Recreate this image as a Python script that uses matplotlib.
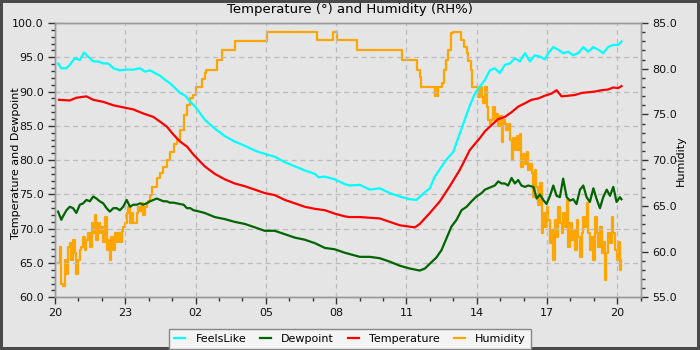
import matplotlib
matplotlib.use("Agg")
import matplotlib.pyplot as plt
from matplotlib.ticker import MultipleLocator, FixedLocator, FormatStrFormatter

# ---- data (hours since 20:00 of first day) ----
feels_t = [0.13, 0.27, 0.49, 0.63, 0.84, 1.06, 1.24, 1.41, 1.63, 1.84, 2.06, 2.27, 2.49, 2.77,
           3.06, 3.34, 3.63, 3.84, 4.06, 4.27, 4.49, 4.70, 4.91, 5.13, 5.34, 5.56, 5.77, 5.99,
           6.39, 6.82, 7.25, 7.67, 8.10, 8.53, 8.95, 9.38, 9.81, 10.24, 10.66, 11.09, 11.25,
           11.52, 11.94, 12.37, 12.58, 13.01, 13.44, 13.86, 14.29, 14.72, 15.14, 15.43, 15.71,
           16.00, 16.21, 16.43, 16.71, 17.00, 17.28, 17.49, 17.71, 17.92, 18.13, 18.35, 18.56,
           18.77, 18.99, 19.20, 19.42, 19.63, 19.84, 20.06, 20.27, 20.48, 20.70, 20.91, 21.05,
           21.27, 21.48, 21.69, 21.91, 22.12, 22.33, 22.55, 22.76, 22.97, 23.19, 23.40, 23.61,
           23.83, 24.04, 24.18]
feels_v = [94.1, 93.4, 93.4, 93.9, 94.85, 94.6, 95.7, 95.1, 94.4, 94.4, 94.1, 94.1, 93.4, 93.1,
           93.2, 93.2, 93.4, 92.9, 93.1, 92.7, 92.3, 91.7, 91.2, 90.5, 89.8, 89.4, 88.5, 87.8,
           85.9, 84.6, 83.5, 82.7, 82.1, 81.4, 80.9, 80.5, 79.7, 79.1, 78.5, 78.0, 77.5,
           77.6, 77.2, 76.5, 76.3, 76.4, 75.7, 75.9, 75.2, 74.7, 74.3, 74.2, 75.1,
           75.9, 77.6, 78.7, 80.1, 81.2, 83.9, 85.9, 88.0, 89.7, 90.7, 91.7, 93.1,
           93.4, 92.7, 93.9, 94.1, 94.85, 94.4, 95.6, 94.4, 95.3, 95.1, 94.7, 95.6,
           96.5, 96.1, 95.6, 95.8, 95.3, 95.6, 96.5, 95.8, 96.5, 96.1, 95.6, 96.5,
           96.8, 96.8, 97.3]

temp_t = [0.17, 0.63, 0.91, 1.34, 1.63, 2.06, 2.49, 2.91, 3.34, 3.77, 4.20, 4.49, 4.77, 5.06,
          5.34, 5.63, 5.91, 6.39, 6.82, 7.25, 7.67, 8.10, 8.53, 8.95, 9.38, 9.81, 10.24, 10.66,
          11.09, 11.52, 11.94, 12.37, 12.58, 13.01, 13.44, 13.86, 14.29, 14.72, 15.14, 15.36,
          15.57, 16.00, 16.43, 16.85, 17.28, 17.71, 18.13, 18.35, 18.63, 18.92, 19.20, 19.49,
          19.77, 20.06, 20.34, 20.63, 20.91, 21.19, 21.41, 21.62, 21.91, 22.19, 22.48, 22.76,
          23.04, 23.33, 23.61, 23.83, 24.04, 24.18]
temp_v = [88.8, 88.7, 89.1, 89.3, 88.8, 88.5, 88.0, 87.7, 87.4, 86.8, 86.3, 85.6, 84.9, 83.7,
          82.7, 82.0, 80.8, 79.1, 78.0, 77.2, 76.6, 76.2, 75.7, 75.2, 74.9, 74.2, 73.7, 73.2,
          72.9, 72.7, 72.2, 71.8, 71.7, 71.7, 71.6, 71.5, 71.0, 70.5, 70.3, 70.2,
          70.7, 72.3, 74.0, 76.2, 78.6, 81.5, 83.2, 84.2, 85.1, 86.0, 86.3, 87.0,
          87.8, 88.3, 88.8, 89.0, 89.4, 89.7, 90.2, 89.3, 89.4, 89.5, 89.8, 89.9,
          90.0, 90.2, 90.3, 90.6, 90.5, 90.8]

dew_t = [0.13, 0.27, 0.34, 0.49, 0.63, 0.77, 0.91, 1.06, 1.20, 1.34, 1.49, 1.63, 1.77, 1.91,
         2.06, 2.20, 2.34, 2.49, 2.63, 2.77, 2.91, 3.06, 3.20, 3.34, 3.49, 3.63, 3.77, 3.91,
         4.06, 4.20, 4.34, 4.49, 4.63, 4.77, 4.91, 5.06, 5.20, 5.34, 5.49, 5.63, 5.77, 5.91,
         6.05, 6.39, 6.82, 7.25, 7.67, 8.10, 8.53, 8.95, 9.38, 9.81, 10.24, 10.66, 11.09,
         11.52, 11.94, 12.37, 12.58, 13.01, 13.44, 13.86, 14.29, 14.72, 15.14, 15.57, 15.79,
         16.00, 16.28, 16.50, 16.71, 16.92, 17.14, 17.35, 17.57, 17.78, 17.99, 18.21, 18.35,
         18.49, 18.63, 18.77, 18.92, 19.06, 19.20, 19.34, 19.49, 19.63, 19.77, 19.91, 20.06,
         20.20, 20.42, 20.56, 20.70, 20.84, 20.98, 21.13, 21.27, 21.41, 21.55, 21.69, 21.84,
         21.98, 22.12, 22.26, 22.41, 22.55, 22.69, 22.83, 22.98, 23.12, 23.26, 23.40, 23.55,
         23.69, 23.83, 23.97, 24.11, 24.18]
dew_v = [72.5, 71.3, 71.8, 72.7, 73.2, 73.0, 72.3, 73.5, 73.7, 74.2, 74.0, 74.7, 74.4, 74.0,
         73.7, 73.0, 72.5, 73.0, 73.0, 72.7, 73.2, 74.2, 73.2, 73.5, 73.5, 73.7, 73.5, 73.7,
         74.0, 74.2, 74.4, 74.2, 74.0, 74.0, 73.8, 73.8, 73.7, 73.6, 73.5, 73.0, 73.0, 72.7,
         72.6, 72.3, 71.7, 71.4, 71.0, 70.7, 70.2, 69.7, 69.7, 69.2, 68.7, 68.4, 67.9,
         67.2, 67.0, 66.5, 66.3, 65.9, 65.9, 65.7, 65.2, 64.6, 64.2, 63.9, 64.2,
         64.9, 65.8, 66.9, 68.6, 70.3, 71.3, 72.7, 73.2, 74.0, 74.7, 75.2, 75.7,
         75.9, 76.1, 76.3, 76.9, 76.6, 76.6, 76.3, 77.4, 76.6, 77.1, 76.3, 76.1,
         76.3, 76.1, 74.4, 75.0, 74.2, 73.6, 74.8, 76.3, 74.8, 74.6, 77.3, 74.6,
         74.1, 74.3, 73.6, 75.7, 76.3, 74.6, 73.9, 75.9, 74.3, 73.0, 74.6, 75.7,
         74.8, 76.1, 73.9, 74.6, 74.3]

hum_t = [0.13, 0.20, 0.27, 0.34, 0.41, 0.49, 0.56, 0.63, 0.70, 0.77, 0.84, 0.91, 0.99, 1.06,
         1.13, 1.20, 1.27, 1.34, 1.41, 1.49, 1.56, 1.63, 1.70, 1.77, 1.84, 1.91, 1.99, 2.06,
         2.13, 2.20, 2.27, 2.34, 2.41, 2.49, 2.56, 2.63, 2.70, 2.77, 2.84, 2.91, 2.99, 3.06,
         3.13, 3.20, 3.27, 3.34, 3.41, 3.49, 3.56, 3.63, 3.70, 3.77, 3.84, 3.91, 3.99, 4.06,
         4.13, 4.34, 4.49, 4.63, 4.77, 4.91, 5.06, 5.20, 5.34, 5.49, 5.63, 5.77, 5.91,
         6.00, 6.25, 6.28, 6.39, 6.46, 6.89, 6.92, 7.10, 7.13, 7.65, 7.68, 9.00, 9.03,
         11.16, 11.19, 11.84, 11.87, 12.01, 12.04, 12.84, 12.87, 14.76, 14.79, 15.40, 15.46,
         15.57, 15.64, 16.14, 16.20, 16.24, 16.30, 16.34, 16.43, 16.50, 16.60, 16.68, 16.78,
         16.92, 17.00, 17.28, 17.35, 17.45, 17.57, 17.64, 17.74, 17.82, 17.99, 18.06, 18.13,
         18.21, 18.28, 18.35, 18.42, 18.49, 18.56, 18.63, 18.70, 18.77, 18.84, 18.92, 18.99,
         19.06, 19.13, 19.20, 19.27, 19.35, 19.42, 19.49, 19.56, 19.63, 19.70, 19.77, 19.84,
         19.91, 19.98, 20.06, 20.13, 20.20, 20.27, 20.34, 20.41, 20.48, 20.55, 20.63, 20.70,
         20.77, 20.84, 20.91, 20.98, 21.05, 21.13, 21.20, 21.27, 21.34, 21.41, 21.48, 21.55,
         21.62, 21.69, 21.76, 21.84, 21.91, 21.98, 22.05, 22.12, 22.19, 22.26, 22.33, 22.40,
         22.48, 22.55, 22.62, 22.69, 22.76, 22.83, 22.90, 22.97, 23.04, 23.12, 23.19, 23.26,
         23.33, 23.40, 23.47, 23.54, 23.61, 23.68, 23.76, 23.83, 23.90, 23.97, 24.04, 24.11,
         24.18]
hum_v = [58.7, 60.5, 56.5, 56.2, 59.1, 57.6, 60.5, 60.9, 59.1, 61.3, 59.8, 57.6, 59.1, 60.2,
         60.5, 61.6, 60.2, 61.3, 62.0, 60.5, 63.1, 62.0, 64.0, 61.3, 63.1, 62.0, 62.7, 61.1,
         63.8, 60.2, 61.3, 59.1, 61.6, 60.2, 62.0, 61.1, 62.0, 61.1, 62.2, 62.7, 63.1, 64.2,
         64.9, 63.1, 64.2, 63.1, 63.1, 64.2, 64.9, 64.4, 65.3, 64.0, 64.9, 65.3, 65.5, 66.2,
         67.1, 68.0, 68.6, 69.3, 70.0, 70.9, 71.8, 72.2, 73.3, 74.9, 76.0, 76.8, 77.1,
         78.0, 78.0, 78.9, 79.5, 79.9, 79.9, 81.0, 81.0, 82.0, 82.0, 83.0, 83.0, 84.0,
         84.0, 83.1, 83.1, 84.0, 84.0, 83.1, 83.1, 82.0, 82.0, 81.0, 81.0, 79.9,
         79.1, 78.0, 78.0, 77.0, 78.0, 77.0, 78.0, 78.0, 78.4, 79.9, 81.0, 82.0,
         83.9, 84.0, 84.0, 83.1, 82.4, 81.7, 80.8, 79.9, 78.0, 78.0, 76.9, 78.0,
         76.9, 76.2, 78.0, 75.8, 74.4, 74.0, 74.4, 75.8, 74.4, 75.1, 73.7, 74.8,
         72.0, 74.4, 74.0, 73.3, 74.0, 72.2, 70.0, 72.4, 71.1, 72.6, 71.1, 72.9,
         69.3, 70.7, 69.6, 70.9, 68.9, 69.6, 68.6, 66.0, 68.9, 67.1, 65.1, 67.5,
         62.0, 64.2, 62.7, 64.9, 63.4, 60.9, 62.4, 59.1, 63.4, 61.6, 64.9, 63.1,
         62.0, 64.2, 62.7, 65.6, 60.5, 63.1, 61.3, 62.4, 60.2, 63.4, 61.6, 59.4,
         62.0, 63.8, 62.7, 65.3, 62.0, 60.2, 61.6, 59.1, 63.8, 62.0, 60.5, 62.7,
         59.8, 61.1, 56.9, 59.8, 62.0, 60.9, 63.8, 62.0, 60.2, 59.1, 61.1, 58.0,
         59.1]

x_ticks = [0, 3, 6, 9, 12, 15, 18, 21, 24]
x_labels = ["20", "23", "02", "05", "08", "11", "14", "17", "20"]

# ---- figure ----
BG = "#e5e5e5"
fig = plt.figure(figsize=(7, 3.5), dpi=100, facecolor=BG)
fig.patch.set_edgecolor("#4a4a4a")
fig.patch.set_linewidth(4)

ax = fig.add_axes([55 / 700, 1 - 297.3 / 350, (640.7 - 55) / 700, (297.3 - 23) / 350])
ax.set_facecolor(BG)
ax2 = ax.twinx()

l1, = ax.plot(feels_t, feels_v, color="cyan", lw=1.6, label="FeelsLike", zorder=3)
l2, = ax.plot(dew_t, dew_v, color="#006400", lw=1.6, label="Dewpoint", zorder=3)
l3, = ax.plot(temp_t, temp_v, color="red", lw=1.6, label="Temperature", zorder=3)
l4, = ax2.plot(hum_t, hum_v, color="orange", lw=1.6, label="Humidity", drawstyle="steps-post")

ax.set_xlim(0, 25)
ax.set_ylim(60, 100)
ax2.set_ylim(55, 85)

ax.xaxis.set_major_locator(FixedLocator(x_ticks))
ax.set_xticklabels(x_labels)
ax.xaxis.set_minor_locator(MultipleLocator(1))
ax.yaxis.set_major_locator(MultipleLocator(5))
ax.yaxis.set_minor_locator(MultipleLocator(1))
ax2.yaxis.set_major_locator(MultipleLocator(5))
ax2.yaxis.set_minor_locator(MultipleLocator(1))
ax.yaxis.set_major_formatter(FormatStrFormatter("%.1f"))
ax2.yaxis.set_major_formatter(FormatStrFormatter("%.1f"))

for a in (ax, ax2):
    a.tick_params(which="major", length=5, width=1, color="#333333", labelsize=8,
                  labelcolor="#111111", pad=3)
    a.tick_params(which="minor", length=3, width=1, color="#333333")
    for s in a.spines.values():
        s.set_color("#999999")
        s.set_linewidth(1)

ax.grid(True, which="major", color="#bbbbbb", linestyle=(0, (4, 3)), linewidth=0.9)
ax.set_axisbelow(True)
ax.set_zorder(ax2.get_zorder() + 1)
ax.patch.set_visible(False)
ax2.patch.set_visible(True)
ax2.patch.set_facecolor(BG)

ax.set_ylabel("Temperature and Dewpoint", fontsize=8)
ax.yaxis.set_label_coords(-0.058, 0.49)
ax2.set_ylabel("Humidity", fontsize=8)
ax2.yaxis.set_label_coords(1.060, 0.5)
fig.suptitle("Temperature (\u00b0) and Humidity (RH%)", fontsize=9.5, y=0.992)

leg = fig.legend(handles=[l1, l2, l3, l4], loc="lower center", bbox_to_anchor=(0.5, -0.012),
                 ncol=4, fontsize=8, frameon=True, fancybox=False, handlelength=1.0,
                 columnspacing=1.25, handletextpad=0.9, borderpad=0.45)
leg.get_frame().set_facecolor("#f4f4f4")
leg.get_frame().set_edgecolor("#888888")
leg.get_frame().set_alpha(1)

fig.savefig("out.png", dpi=100, facecolor=BG, edgecolor=fig.patch.get_edgecolor())
